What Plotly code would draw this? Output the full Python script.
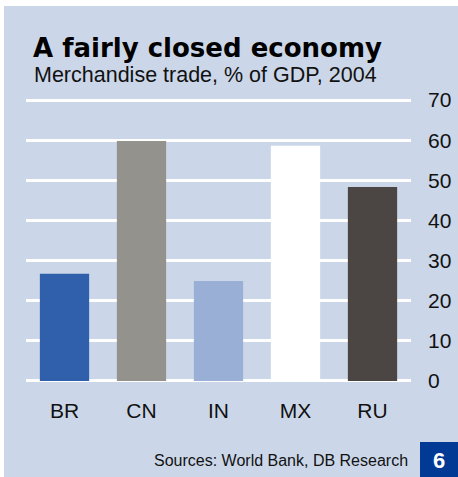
import plotly.graph_objects as go

W, H = 458, 477

countries = ["BR", "CN", "IN", "MX", "RU"]
trade_pct = [26.7, 59.8, 24.9, 58.6, 48.3]
bar_colors = ["#305fab", "#94928c", "#9aafd6", "#ffffff", "#4b4644"]
y_ticks = [0, 10, 20, 30, 40, 50, 60, 70]

BG = "#cbd7e9"


def px_x(p):
    return p / W


def px_y(p):
    return 1 - p / H


fig = go.Figure(go.Bar(
    x=countries, y=trade_pct,
    marker=dict(color=bar_colors, line=dict(width=0)),
    hoverinfo="x+y",
))

fig.update_layout(
    width=W, height=H,
    margin=dict(l=0, r=0, t=0, b=0),
    paper_bgcolor="white",
    plot_bgcolor="rgba(0,0,0,0)",
    showlegend=False,
    bargap=0.36,
    font=dict(family="Liberation Sans, Arial, sans-serif", color="#111111"),
    xaxis=dict(
        domain=[px_x(26), px_x(411)],
        showgrid=False, zeroline=False, showline=False,
        tickfont=dict(size=21),
        ticklabelstandoff=13,
        automargin=False,
    ),
    yaxis=dict(
        domain=[px_y(382.6), px_y(98.4)],
        range=[-0.4, 70.4],
        side="right",
        tickvals=y_ticks,
        showgrid=True, gridcolor="white", gridwidth=3,
        zeroline=False, showline=False,
        tickfont=dict(size=21),
        ticklabelstandoff=16,
        automargin=False,
    ),
    shapes=[
        # light blue panel
        dict(type="rect", xref="paper", yref="paper",
             x0=px_x(4), x1=1, y0=0, y1=px_y(6),
             fillcolor=BG, line=dict(width=0), layer="below"),
        # chart number box
        dict(type="rect", xref="paper", yref="paper",
             x0=px_x(420), x1=1, y0=0, y1=px_y(442),
             fillcolor="#003a94", line=dict(width=0), layer="above"),
    ],
    annotations=[
        dict(text="<b>A fairly closed economy</b>", x=px_x(31), y=px_y(31),
             xref="paper", yref="paper", xanchor="left", yanchor="top",
             showarrow=False, font=dict(size=26, color="black",
                                        family="DejaVu Sans, sans-serif")),
        dict(text="Merchandise trade, % of GDP, 2004", x=px_x(32), y=px_y(61),
             xref="paper", yref="paper", xanchor="left", yanchor="top",
             showarrow=False, font=dict(size=21.5)),
        dict(text="Sources: World Bank, DB Research", x=px_x(410), y=px_y(460),
             xref="paper", yref="paper", xanchor="right", yanchor="middle",
             showarrow=False, font=dict(size=16)),
        dict(text="<b>6</b>", x=px_x(439), y=px_y(460),
             xref="paper", yref="paper", xanchor="center", yanchor="middle",
             showarrow=False, font=dict(size=22, color="white")),
    ],
)

fig.write_html("out.html", config={"displayModeBar": False},
               post_script="document.body.style.margin='0';")
